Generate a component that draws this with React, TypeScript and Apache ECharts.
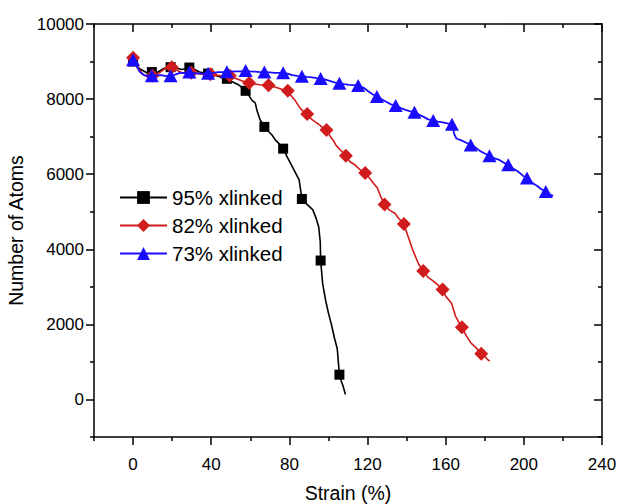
import React, { useEffect, useRef } from "react";
import * as echarts from "echarts";

// Axis ranges and tick positions
const xMin = -20;
const xMax = 240;
const yMin = -1000;
const yMax = 10000;
const xMajorTicks = [0, 40, 80, 120, 160, 200, 240];
const xMinorTicks = [-20, 20, 60, 100, 140, 180, 220];
const yMajorTicks = [0, 2000, 4000, 6000, 8000, 10000];
const yMinorTicks = [-1000, 1000, 3000, 5000, 7000, 9000];

const seriesNames = ["95% xlinked", "82% xlinked", "73% xlinked"];

// 95% crosslinked: symbol points
const markStrain95 = [0, 9.6, 19.2, 28.8, 38.4, 48, 57.6, 67.2, 76.8, 86.4, 96, 105.6];
const markAtoms95 = [9000, 8720, 8850, 8840, 8680, 8540, 8220, 7260, 6680, 5340, 3700, 660];
// 95% crosslinked: full trace
const traceStrain95 = [
  0.8, 2, 3.5, 5, 7, 12, 14, 16, 22, 25, 31, 34, 36, 41, 44, 46, 50, 52, 54, 56,
  59, 61, 62.5, 63.5, 65, 69, 71, 73, 75, 79, 81, 83, 85, 88, 90, 92, 93.5, 95,
  95.8, 97, 98.5, 100, 101.5, 103, 104.5, 106.5, 107.5, 108.7,
];
const traceAtoms95 = [
  8960, 8880, 8800, 8760, 8700, 8700, 8760, 8820, 8830, 8790, 8800, 8720, 8700,
  8650, 8600, 8560, 8480, 8430, 8380, 8300, 8120, 7960, 7900, 7680, 7450, 7150,
  7050, 6900, 6800, 6450, 6250, 6050, 5850, 5250, 5150, 5050, 4850, 4600, 4200,
  3100, 2650, 2300, 2000, 1650, 1350, 500, 350, 130,
];

// 82% crosslinked
const markStrain82 = [
  0, 9.9, 19.8, 29.7, 39.6, 49.5, 59.4, 69.3, 79.2, 89.1, 99, 108.9, 118.8,
  128.7, 138.6, 148.5, 158.4, 168.3, 178.2,
];
const markAtoms82 = [
  9100, 8620, 8850, 8700, 8660, 8620, 8430, 8370, 8220, 7600, 7180, 6490, 6030,
  5190, 4670, 3420, 2930, 1920, 1220,
];
const traceStrain82 = [
  1.5, 3, 5, 7, 12, 14, 16, 18, 22, 25, 27, 32, 35, 37, 42, 45, 47, 52, 55, 57,
  62, 65, 67, 72, 75, 77, 81, 83, 85.5, 87, 91, 93, 95, 97, 101, 102.5, 104, 106,
  111, 113.5, 116, 121, 123, 125, 126.5, 131, 134, 136, 140.5, 143, 146, 151,
  153, 156, 160, 163, 165, 166.5, 170.5, 173, 175.5, 180, 181.5, 182.6,
];
const traceAtoms82 = [
  8950, 8800, 8660, 8600, 8650, 8720, 8800, 8830, 8780, 8700, 8680, 8700, 8660,
  8640, 8640, 8620, 8600, 8560, 8500, 8460, 8400, 8380, 8370, 8330, 8280, 8240,
  8080, 7960, 7760, 7680, 7480, 7400, 7330, 7240, 7000, 6900, 6760, 6650, 6330,
  6250, 6130, 5900, 5760, 5640, 5430, 5050, 4960, 4820, 4380, 4000, 3620, 3250,
  3180, 3050, 2750, 2560, 2220, 2080, 1700, 1500, 1380, 1150, 1060, 1020,
];

// 73% crosslinked
const markStrain73 = [
  0, 9.6, 19.2, 28.8, 38.4, 48, 57.6, 67.2, 76.8, 86.4, 96, 105.6, 115.2, 124.8,
  134.4, 144, 153.6, 163.2, 172.8, 182.4, 192, 201.6, 211.2,
];
const markAtoms73 = [
  9050, 8620, 8620, 8720, 8690, 8730, 8760, 8720, 8700, 8610, 8550, 8420, 8360,
  8070, 7830, 7650, 7430, 7330, 6780, 6490, 6250, 5900, 5540,
];
const traceStrain73 = [
  1.5, 3.5, 5.5, 7.5, 12, 14.5, 17, 21.5, 24, 26.5, 31, 33.5, 36, 41, 43.5, 46,
  50, 53, 55.5, 60, 62.5, 65, 70, 72.5, 74.5, 79, 81.5, 84, 89, 91.5, 94, 98.5,
  101, 103.5, 108, 110.5, 113, 118, 120, 122.5, 127, 129.5, 132, 137, 139, 141.5,
  146.5, 149, 151, 156, 158.5, 161, 164.5, 165.5, 168, 170, 175, 177.5, 180, 185,
  187.5, 190, 194.5, 197, 199.5, 204, 206.5, 209, 213, 215,
];
const traceAtoms73 = [
  8900, 8720, 8640, 8620, 8630, 8640, 8610, 8650, 8700, 8700, 8700, 8680, 8680,
  8700, 8720, 8720, 8730, 8740, 8740, 8740, 8730, 8720, 8710, 8700, 8700, 8680,
  8640, 8620, 8590, 8580, 8560, 8520, 8480, 8440, 8400, 8380, 8370, 8300, 8220,
  8130, 8000, 7930, 7860, 7760, 7720, 7680, 7580, 7520, 7460, 7400, 7380, 7350,
  7050, 6950, 6900, 6850, 6720, 6620, 6550, 6420, 6380, 6300, 6150, 6070, 5960,
  5780, 5700, 5600, 5460, 5420,
];

const FONT = "'Liberation Sans', Arial, sans-serif";

type Pt = { value: [number, number]; symbol?: string };

// Merge symbol points and trace points into one ordered line; only symbol
// points carry the series symbol.
function buildLine(
  mx: number[],
  my: number[],
  tx: number[],
  ty: number[]
): Pt[] {
  const pts: Pt[] = [];
  mx.forEach((x, i) => pts.push({ value: [x, my[i]] }));
  tx.forEach((x, i) => pts.push({ value: [x, ty[i]], symbol: "none" }));
  pts.sort((a, b) => a.value[0] - b.value[0]);
  return pts;
}

function valueAxis(
  position: string,
  min: number,
  max: number,
  ticks: number[],
  tickLen: number,
  inside: boolean,
  showLine: boolean,
  extra: Record<string, unknown> = {}
) {
  return {
    type: "value",
    position,
    min,
    max,
    gridIndex: 0,
    splitLine: { show: false },
    axisLine: {
      show: showLine,
      onZero: false,
      lineStyle: { color: "#000", width: 1.5 },
    },
    axisTick: {
      show: true,
      customValues: ticks,
      inside,
      length: tickLen,
      lineStyle: { color: "#000", width: 1.5 },
    },
    axisLabel: { show: false },
    ...extra,
  };
}

export default function App() {
  const ref = useRef<HTMLDivElement>(null);

  useEffect(() => {
    if (!ref.current) return;
    const chart = echarts.init(ref.current, null, { renderer: "svg" });

    const labelStyle = {
      show: true,
      color: "#000",
      fontSize: 17,
      fontFamily: FONT,
      formatter: (v: number) => String(v),
    };

    const option = {
      animation: false,
      backgroundColor: "#fff",
      grid: {
        left: 94,
        right: 18,
        top: 24,
        bottom: 67,
        containLabel: false,
        outerBoundsMode: "none",
      },
      legend: {
        data: seriesNames,
        orient: "vertical",
        left: 114,
        top: 182,
        itemWidth: 47,
        itemHeight: 16,
        itemGap: 7,
        textStyle: { color: "#000", fontSize: 20.5, fontFamily: FONT },
        selectedMode: false,
      },
      xAxis: [
        valueAxis("bottom", xMin, xMax, xMajorTicks, 8, false, true, {
          axisLabel: { ...labelStyle, customValues: xMajorTicks, margin: 19 },
          name: "Strain (%)",
          nameLocation: "middle",
          nameGap: 46,
          nameTextStyle: { color: "#000", fontSize: 19.5, fontFamily: FONT },
        }),
        valueAxis("bottom", xMin, xMax, xMinorTicks, 4, false, false),
        valueAxis("top", xMin, xMax, xMajorTicks, 8, true, true),
        valueAxis("top", xMin, xMax, xMinorTicks, 4, true, false),
      ],
      yAxis: [
        valueAxis("left", yMin, yMax, yMajorTicks, 8, false, true, {
          axisLabel: { ...labelStyle, customValues: yMajorTicks, margin: 10 },
          name: "Number of Atoms",
          nameLocation: "middle",
          nameGap: 59,
          nameTextStyle: { color: "#000", fontSize: 19.5, fontFamily: FONT },
        }),
        valueAxis("left", yMin, yMax, yMinorTicks, 4, false, false),
        valueAxis("right", yMin, yMax, yMajorTicks, 8, true, true),
        valueAxis("right", yMin, yMax, yMinorTicks, 4, true, false),
      ],
      series: [
        {
          name: seriesNames[0],
          type: "line",
          xAxisIndex: 0,
          yAxisIndex: 0,
          data: buildLine(markStrain95, markAtoms95, traceStrain95, traceAtoms95),
          symbol: "rect",
          symbolSize: 10,
          color: "#000000",
          lineStyle: { color: "#000000", width: 1.6 },
          itemStyle: { color: "#000000" },
          emphasis: { disabled: true },
          z: 2,
        },
        {
          name: seriesNames[1],
          type: "line",
          xAxisIndex: 0,
          yAxisIndex: 0,
          data: buildLine(markStrain82, markAtoms82, traceStrain82, traceAtoms82),
          symbol: "diamond",
          symbolSize: 14,
          color: "#d01c1c",
          lineStyle: { color: "#d01c1c", width: 1.6 },
          itemStyle: { color: "#d01c1c" },
          emphasis: { disabled: true },
          z: 3,
        },
        {
          name: seriesNames[2],
          type: "line",
          xAxisIndex: 0,
          yAxisIndex: 0,
          data: buildLine(markStrain73, markAtoms73, traceStrain73, traceAtoms73),
          symbol: "triangle",
          symbolSize: [14, 13],
          color: "#1a0dff",
          lineStyle: { color: "#1a0dff", width: 1.8 },
          itemStyle: { color: "#1a0dff" },
          emphasis: { disabled: true },
          z: 4,
        },
      ],
    };

    chart.setOption(option as any);
    return () => chart.dispose();
  }, []);

  return (
    <div
      ref={ref}
      style={{
        position: "fixed",
        left: 0,
        top: 0,
        width: 620,
        height: 504,
        background: "#fff",
      }}
    />
  );
}
